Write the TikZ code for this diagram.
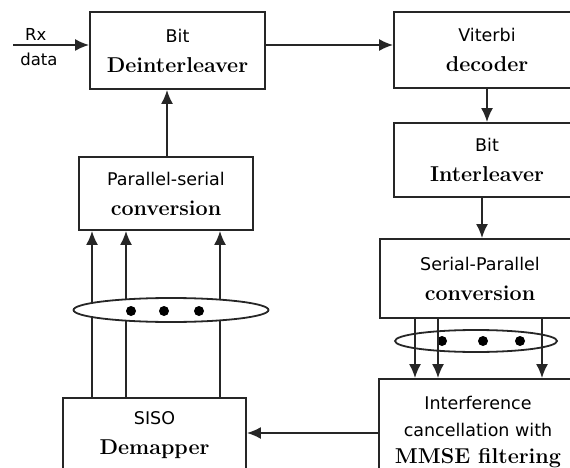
\documentclass[tikz,border=0pt]{standalone}
\usepackage{fontspec}
\newfontfamily\blocksans{DejaVu Sans}
\usetikzlibrary{shapes.geometric,arrows.meta}
\tikzset{
    block/.style={
        rectangle,
        draw=black!85,
        line width=1.8pt,
        fill=white,
        align=center,
        inner sep=2pt,
        font=\blocksans\fontsize{17.5}{30}\selectfont
    },
    arrow/.style={
        -{Latex[length=14pt,width=12pt]},
        line width=1.8pt,
        draw=black!85
    },
    bundle/.style={
        ellipse,
        draw=black!85,
        line width=1.8pt,
        inner sep=0pt
    },
    dot/.style={circle, fill=black, inner sep=0pt, minimum size=10pt},
    tag/.style={font=\blocksans\fontsize{16.5}{18}\selectfont, inner sep=1pt}
}
\newcommand{\boldline}[1]{{\rmfamily\bfseries\fontsize{21.5}{30}\selectfont #1}}

\begin{document}
\begin{tikzpicture}[x=1pt, y=-1pt]
        \clip (0,0) rectangle (570,468);
        % Nodes
        \node (deint) [block, minimum width=175pt, minimum height=77pt] at (177.5,50.5) {Bit\\\boldline{Deinterleaver}};
        \node (vit) [block, minimum width=186pt, minimum height=76pt] at (487,50) {Viterbi\\\boldline{decoder}};
        \node (inter) [block, minimum width=186pt, minimum height=74pt] at (487,160) {Bit\\\boldline{Interleaver}};
        \node (sp) [block, minimum width=200pt, minimum height=79pt] at (480,278.5) {Serial-Parallel\\\boldline{conversion}};
        \node (interf) [block, minimum width=198pt, minimum height=106pt] at (478,432) {Interference\\[-3pt]cancellation with\\[-3pt]\boldline{MMSE filtering}};
        \node (ps) [block, minimum width=174pt, minimum height=73pt] at (166,193.5) {Parallel-serial\\\boldline{conversion}};
        \node (dem) [block, minimum width=183pt, minimum height=74pt] at (154.5,435) {SISO\\\boldline{Demapper}};

        % Coordinates
        \coordinate (rxin) at (13,45);
        \coordinate (backin) at (0,433);

        % Arrows
        \draw[arrow] (rxin) -- node[tag, above, pos=0.3, yshift=3pt] (rx) {Rx} node[tag, below, pos=0.34, yshift=-6pt] (rxdata) {data} (deint.west |- rxin);
        \draw[arrow] (deint.east |- rxin) -- (vit.west |- rxin);
        \draw[arrow] (vit) -- (inter);
        \draw[arrow] (inter.south -| 482,0) -- (sp.north -| 482,0);
        \draw[arrow] (interf.west |- backin) -- (dem.east |- backin);
        \draw[arrow] (ps.north -| 167,0) -- (deint.south -| 167,0);

        % Parallel streams
        \foreach \x in {92,126,220}
            \draw[arrow] (dem.north -| \x,0) -- (ps.south -| \x,0);
        \node (lbundle) [bundle, fill=white, minimum width=195pt, minimum height=24pt] at (171,310) {};
        \foreach \x in {131,164,199}
            \node (ldot\x) [dot] at (\x,311) {};

        \node (rbundle) [bundle, minimum width=162pt, minimum height=22pt] at (476,341) {};
        \foreach \x in {442,483,520}
            \node (rdot\x) [dot] at (\x,341) {};
        \foreach \x in {415,438,542}
            \draw[arrow] (sp.south -| \x,0) -- (interf.north -| \x,0);
\end{tikzpicture}
\end{document}
